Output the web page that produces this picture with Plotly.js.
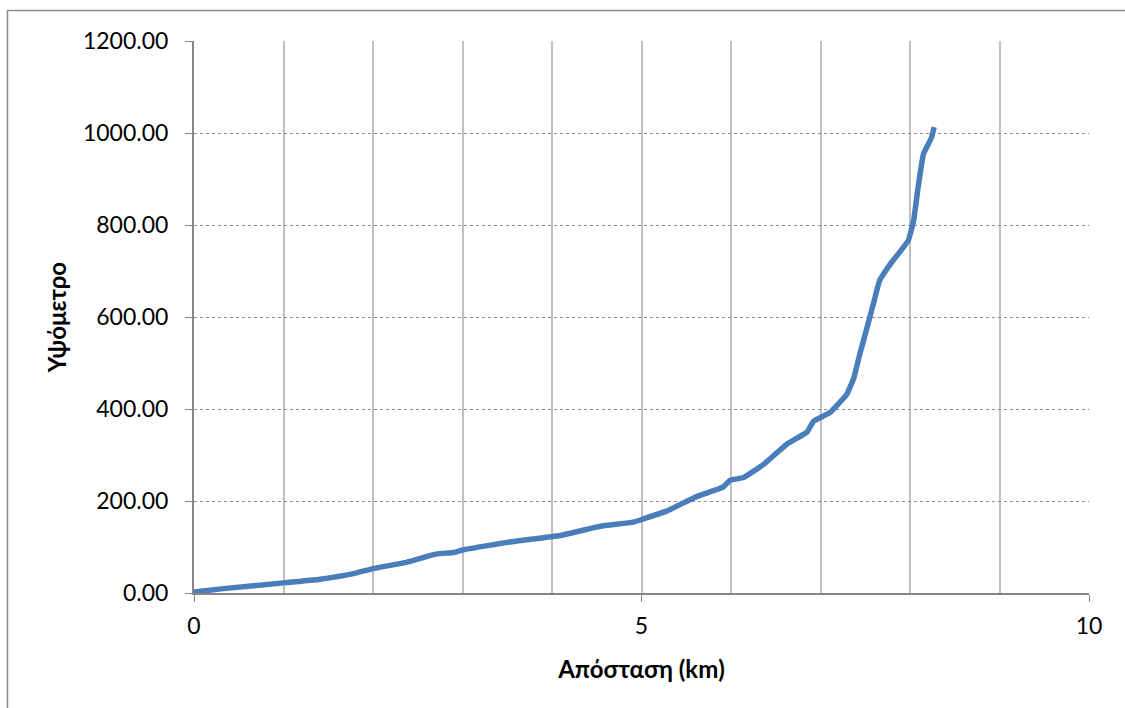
<!DOCTYPE html>
<html>
<head>
<meta charset="utf-8">
<script src="https://cdn.plot.ly/plotly-3.0.1.min.js"></script>
<style>html,body{margin:0;padding:0;background:#fff;}#chart{width:1125px;height:708px;}</style>
</head>
<body>
<div id="chart"></div>
<script>
// Distance (km)
const distanceKm = [0, 0.33, 1.0, 1.41, 1.78, 2.0, 2.38, 2.71, 2.9, 3.01, 3.53, 4.09, 4.54, 4.91, 5.02, 5.28, 5.62, 5.91, 5.99, 6.14, 6.36, 6.62, 6.85, 6.92, 7.11, 7.29, 7.37, 7.44, 7.52, 7.59, 7.66, 7.78, 7.98, 8.04, 8.09, 8.15, 8.24, 8.27];
// Elevation (m)
const elevation = [2, 9.5, 22, 30, 42, 53, 67, 85, 88, 94, 111, 125, 145, 154, 161, 178, 210, 230, 245, 251, 279, 323, 350, 373, 393, 431, 466, 520, 577, 628, 679, 715, 766, 809, 881, 954, 990, 1013];
const xTickVals = [0, 5, 10];
const xTickText = ['0', '5', '10'];

const fontFam = 'Lato, "Open Sans", sans-serif';
const W = 1125, H = 708, L = 194, R = 36, T = 41, B = 115;
const pw = W - L - R, ph = H - T - B;
const px = v => (v - L) / pw;
const py = v => (H - B - v) / ph;

Plotly.newPlot('chart', [{
  x: distanceKm,
  y: elevation,
  type: 'scatter',
  mode: 'lines',
  line: {color: '#4a7ebb', width: 5.5, shape: 'spline', smoothing: 0.3},
  hoverinfo: 'skip'
}], {
  width: W, height: H,
  margin: {l: L, r: R, t: T, b: B, pad: 0},
  paper_bgcolor: '#fff',
  plot_bgcolor: '#fff',
  showlegend: false,
  font: {family: fontFam, color: '#000', size: 23},
  xaxis: {
    range: [0, 10],
    tickmode: 'array', tickvals: xTickVals, ticktext: xTickText,
    ticks: 'outside', ticklen: 7, tickcolor: '#868686', tickwidth: 1,
    ticklabelstandoff: 4,
    showline: true, linecolor: '#868686', linewidth: 2,
    showgrid: true, gridcolor: '#c0c0c0', gridwidth: 2,
    minor: {dtick: 1, tick0: 0, showgrid: true, gridcolor: '#c0c0c0', gridwidth: 2, ticks: ''},
    zeroline: false,
    tickfont: {family: fontFam, size: 23},
    title: {text: '<b>Απόσταση (km)</b>', font: {family: fontFam, size: 24}, standoff: 24},
    fixedrange: true
  },
  yaxis: {
    range: [0, 1200],
    dtick: 200,
    tickformat: '.2f',
    ticks: 'outside', ticklen: 7, tickcolor: '#868686', tickwidth: 1,
    ticklabelstandoff: 12,
    showline: true, linecolor: '#868686', linewidth: 2,
    showgrid: true, gridcolor: '#8c8c8c', gridwidth: 1, griddash: 'dot',
    zeroline: false,
    tickfont: {family: fontFam, size: 23},
    title: {text: '<b>Υψόμετρο</b>', font: {family: fontFam, size: 24}, standoff: 10},
    fixedrange: true
  },
  shapes: [{
    type: 'rect', xref: 'paper', yref: 'paper',
    x0: px(7.5), x1: 1.2, y0: -0.4, y1: py(10.5),
    line: {color: '#8c8c8c', width: 1.5}, fillcolor: 'rgba(0,0,0,0)', layer: 'below'
  }]
}, {displayModeBar: false, staticPlot: true});
</script>
</body>
</html>
